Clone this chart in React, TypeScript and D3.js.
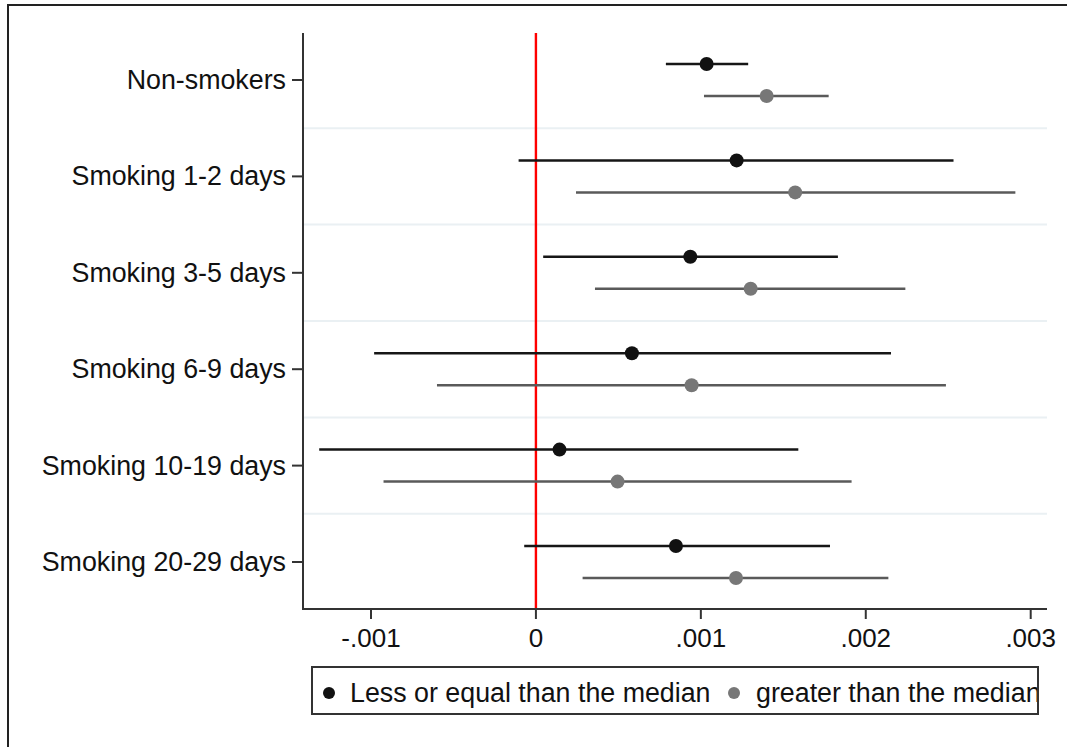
import React from "react";
import * as d3 from "d3";

const categories = [
  "Non-smokers",
  "Smoking 1-2 days",
  "Smoking 3-5 days",
  "Smoking 6-9 days",
  "Smoking 10-19 days",
  "Smoking 20-29 days",
];

// Less or equal than the median
const lowEst = [0.001035, 0.001217, 0.000936, 0.000582, 0.000143, 0.000849];
const lowLo = [0.000788, -0.000105, 0.000044, -0.000981, -0.001314, -0.000071];
const lowHi = [0.001287, 0.002532, 0.001831, 0.002153, 0.001591, 0.001783];

// greater than the median
const highEst = [0.001399, 0.001572, 0.001302, 0.000944, 0.000495, 0.001213];
const highLo = [0.001019, 0.000243, 0.000358, -0.0006, -0.000924, 0.000283];
const highHi = [0.001775, 0.002907, 0.00224, 0.002486, 0.001914, 0.002137];

const xTicks = [-0.001, 0, 0.001, 0.002, 0.003];
const xTickLabels = ["-.001", "0", ".001", ".002", ".003"];
const legendLabels = ["Less or equal than the median", "greater than the median"];

const FONT = "'Liberation Sans', Arial, sans-serif";

export default function App() {
  const W = 1067;
  const H = 747;
  const axisLeft = 303;
  const axisRight = 1047;
  const axisTop = 33;
  const axisBottom = 609;

  const x = d3.scaleLinear().domain([-0.001, 0.003]).range([371, 1030.7]);
  const y = d3.scaleLinear().domain([0, 5]).range([80, 562]);
  const off = 16;

  const series = [
    { est: lowEst, lo: lowLo, hi: lowHi, line: "#161616", dot: "#111111", dy: -off },
    { est: highEst, lo: highLo, hi: highHi, line: "#5a5a5a", dot: "#777777", dy: off },
  ];

  const grid = d3.range(categories.length - 1).map((i) => i + 0.5);

  return (
    <div style={{ position: "absolute", left: 0, top: 0 }}>
      <svg width={W} height={H} style={{ display: "block", background: "#fff" }}>
        <defs>
          <clipPath id="legclip">
            <rect x={312} y={667} width={725} height={47} />
          </clipPath>
        </defs>
        {/* outer frame */}
        <rect x={8} y={5} width={W + 20} height={H + 20} fill="none" stroke="#222" strokeWidth={2} />
        {/* gridlines */}
        {grid.map((g) => (
          <line key={g} x1={axisLeft + 1} x2={axisRight} y1={y(g)} y2={y(g)} stroke="#eaf0f3" strokeWidth={2} />
        ))}
        {/* zero line */}
        <line x1={x(0)} x2={x(0)} y1={axisTop} y2={axisBottom} stroke="#ff0000" strokeWidth={2.4} />
        {/* error bars */}
        {series.map((s, si) =>
          categories.map((c, i) => (
            <g key={`${si}-${i}`}>
              <line x1={x(s.lo[i])} x2={x(s.hi[i])} y1={y(i) + s.dy} y2={y(i) + s.dy} stroke={s.line} strokeWidth={2.5} />
              <circle cx={x(s.est[i])} cy={y(i) + s.dy} r={7} fill={s.dot} />
            </g>
          ))
        )}
        {/* y axis */}
        <line x1={axisLeft} x2={axisLeft} y1={axisTop} y2={axisBottom + 1} stroke="#333" strokeWidth={2} />
        {categories.map((c, i) => (
          <g key={c}>
            <line x1={axisLeft - 11} x2={axisLeft} y1={y(i)} y2={y(i)} stroke="#333" strokeWidth={2} />
            <text x={286} y={y(i) + 9} textAnchor="end" fontFamily={FONT} fontSize={26.8} fill="#111">
              {c}
            </text>
          </g>
        ))}
        {/* x axis */}
        <line x1={axisLeft - 1} x2={axisRight} y1={axisBottom} y2={axisBottom} stroke="#333" strokeWidth={2} />
        {xTicks.map((t, i) => (
          <g key={t}>
            <line x1={x(t)} x2={x(t)} y1={axisBottom} y2={axisBottom + 10} stroke="#333" strokeWidth={2} />
            <text x={x(t)} y={647} textAnchor="middle" fontFamily={FONT} fontSize={26} fill="#111">
              {xTickLabels[i]}
            </text>
          </g>
        ))}
        {/* legend */}
        <rect x={312} y={667} width={726} height={47} fill="#fff" stroke="#333" strokeWidth={2} />
        <circle cx={329} cy={693} r={6} fill="#111" />
        <g clipPath="url(#legclip)">
          <text x={350} y={702} fontFamily={FONT} fontSize={26.8} fill="#111">
            {legendLabels[0]}
          </text>
          <text x={756} y={702} fontFamily={FONT} fontSize={26.8} fill="#111">
            {legendLabels[1]}
          </text>
        </g>
        <circle cx={734} cy={693} r={6} fill="#777" />
        <line x1={1038} x2={1038} y1={667} y2={714} stroke="#333" strokeWidth={2} />
      </svg>
    </div>
  );
}
